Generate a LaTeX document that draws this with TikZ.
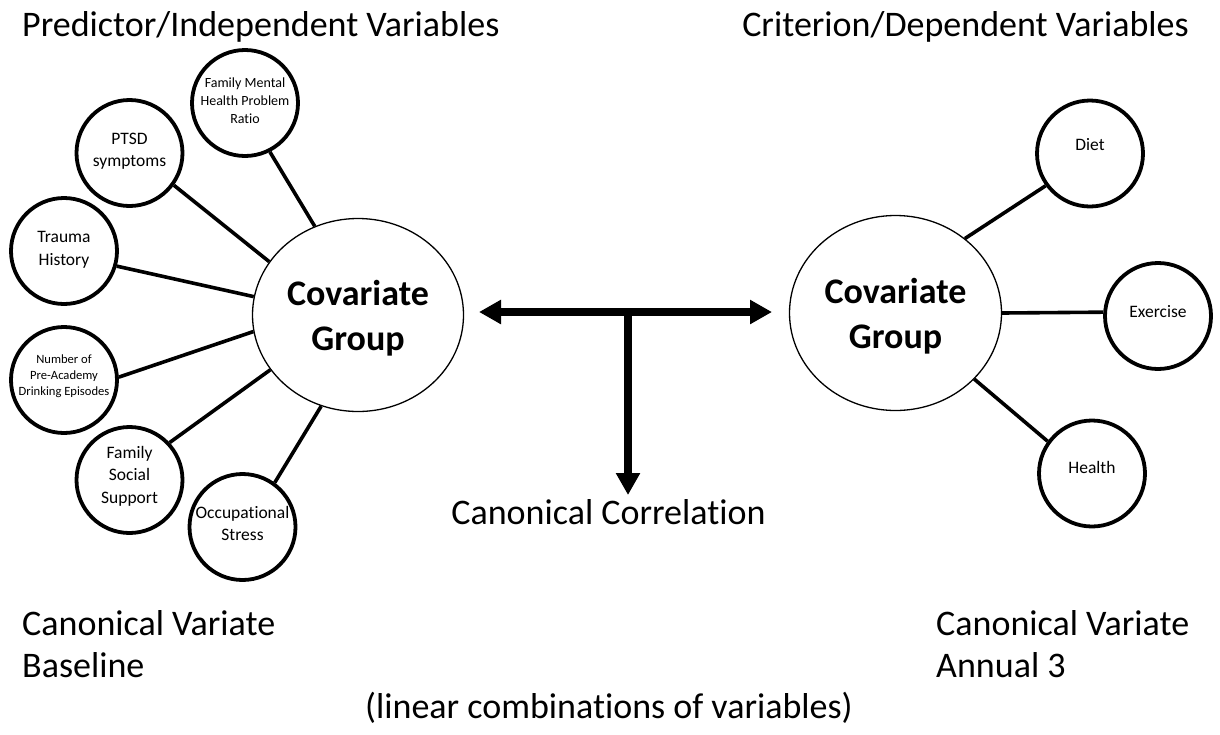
\documentclass[tikz,border=0pt]{standalone}
\usepackage{fontspec}
\setmainfont{Carlito}[Ligatures=NoCommon]
\usetikzlibrary{arrows.meta,shapes.geometric}
\newcommand{\dpt}[1]{\rule[-#1pt]{0pt}{#1pt}}
\begin{document}
\begin{tikzpicture}[x=1pt,y=-1pt,
  smallc/.style={circle, draw, line width=3.8pt, minimum size=106pt, inner sep=0pt, align=center, font=\fontsize{17.5}{22.5}\selectfont},
  bigell/.style={ellipse, draw, line width=1.3pt, inner sep=0pt, align=center, font=\fontsize{36}{45}\selectfont\bfseries},
  link/.style={line width=3.6pt},
  bigtxt/.style={inner sep=0pt, font=\fontsize{36}{42}\selectfont},
  bigline/.style={line width=7.5pt}
]
\fill[white] (0,0) rectangle (1220,734);
\useasboundingbox (0,0) rectangle (1220,734);

% central ellipses
\node[bigell, minimum width=211pt, minimum height=193pt] (cgL) at (358,315) {\rule{0pt}{31pt}Covariate\\Group};
\node[bigell, minimum width=212pt, minimum height=195pt] (cgR) at (895.5,313) {\rule{0pt}{31pt}Covariate\\Group};

% left circles
\node[smallc, font=\fontsize{14}{18}\selectfont] (fmh) at (245,103) {Family Mental\\Health Problem\\Ratio\dpt{5}};
\node[smallc] (ptsd) at (129.5,153) {PTSD\\symptoms\dpt{6}};
\node[smallc] (trauma) at (64,251) {Trauma\\History\dpt{5}};
\node[smallc, font=\fontsize{12.6}{16}\selectfont] (num) at (64,380) {Number of\\Pre-Academy\\Drinking Episodes\dpt{10}};
\node[smallc] (fss) at (129.5,480) {Family\\Social\\Support\dpt{11}};
\node[smallc] (occ) at (242.5,527) {Occupational\\Stress\dpt{7}};

% right circles
\node[smallc] (diet) at (1090,153.5) {Diet\dpt{18}};
\node[smallc] (exer) at (1158,316) {Exercise\dpt{9}};
\node[smallc] (health) at (1092,473.5) {Health\dpt{12}};

% connectors
\draw[link] (fmh.-63.4) -- (cgL.116.3);
\draw[link] (ptsd.-36.5) -- (cgL.149.3);
\draw[link] (trauma.-16.5) -- (cgL.170);
\draw[link] (num.3) -- (cgL.189.2);
\draw[link] (fss.43) -- (cgL.212.1);
\draw[link] (occ.54) -- (cgL.248.4);
\draw[link] (diet.216) -- (cgR.47.2);
\draw[link] (exer.176.4) -- (cgR.0);
\draw[link] (health.144) -- (cgR.-40.8);

% canonical correlation arrows
\coordinate (aL) at (479,312);
\coordinate (aR) at (772,312);
\coordinate (aJ) at (628,312);
\coordinate (aB) at (628,495);
\draw[bigline, {Triangle[length=22pt,width=23pt]}-{Triangle[length=22pt,width=23pt]}] (aL) -- (aR);
\draw[bigline, -{Triangle[length=22pt,width=23pt]}] (aJ) -- (aB);

% texts
\node[bigtxt, anchor=base west] (t1) at (22,36) {Predictor/Independent Variables};
\node[bigtxt, anchor=base east] (t2) at (1189,36) {Criterion/Dependent Variables};
\node[bigtxt, anchor=base west] (cv1) at (22,635) {Canonical Variate};
\node[bigtxt, anchor=base west] (bl) at (22,677) {Baseline};
\node[bigtxt, anchor=base west] (cv2) at (936,635) {Canonical Variate};
\node[bigtxt, anchor=base west] (a3) at (936,677) {Annual 3};
\node[bigtxt, anchor=base] (lin) at (609,718) {(linear combinations of variables)};
\node[bigtxt, anchor=base] (cc) at (608.5,524) {Canonical Correlation};
\end{tikzpicture}
\end{document}
